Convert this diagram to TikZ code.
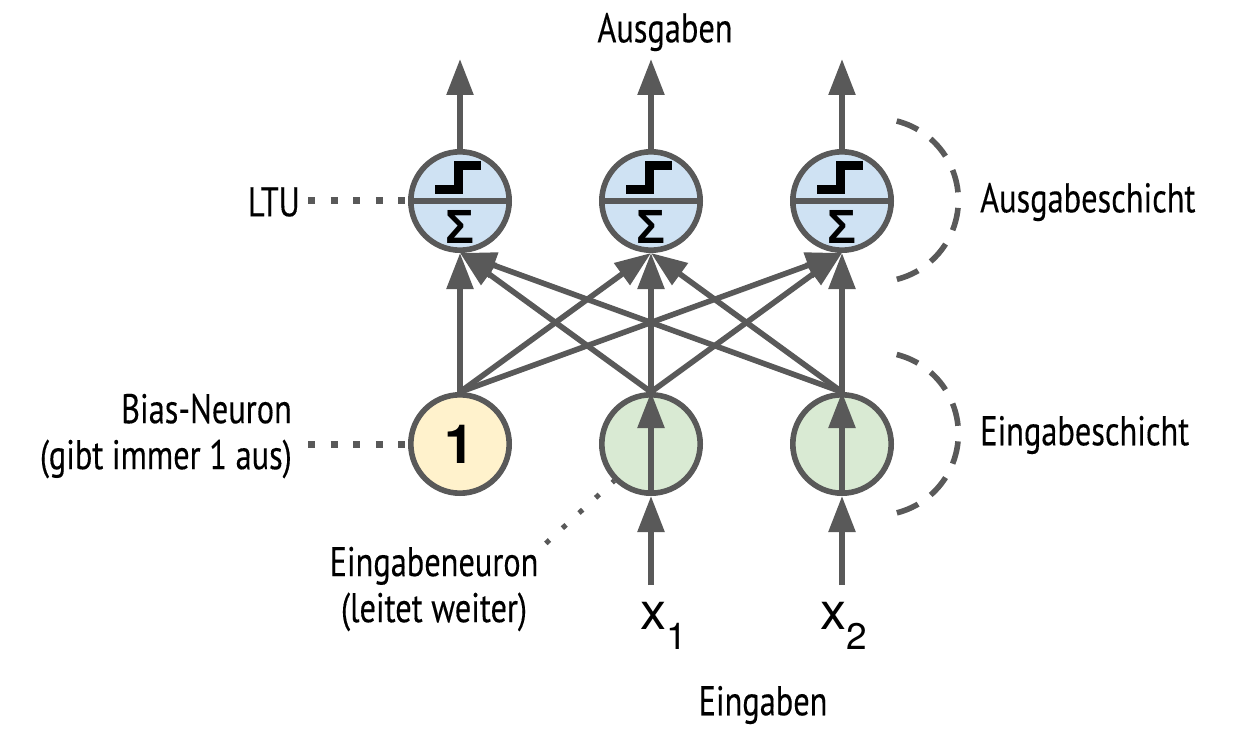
\documentclass[tikz,border=0pt]{standalone}
\usepackage{fontspec}
\setmainfont{Liberation Sans}
\newfontfamily\labelfont[FakeStretch=0.78,FakeBold=0.25]{PT Sans}
\newfontfamily\symfont{TeX Gyre Heros}
\usetikzlibrary{arrows.meta}
\definecolor{edgegray}{HTML}{595959}
\definecolor{outblue}{HTML}{CFE2F3}
\definecolor{biasyellow}{HTML}{FFF2CC}
\definecolor{ingreen}{HTML}{D9EAD3}
\tikzset{
  x=1pt,y=-1pt,
  neuron/.style={circle,draw=edgegray,line width=5.6pt,minimum size=98.4pt,inner sep=0pt,outer sep=2.8pt},
  conn/.style={draw=edgegray,line width=5.6pt,-{Triangle[length=36pt,width=26pt]}},
  dots/.style={draw=edgegray,line width=7pt,dash pattern=on 7pt off 15.6pt},
  diagdots/.style={draw=edgegray,line width=5pt,dash pattern=on 5pt off 17.5pt},
  layerarc/.style={draw=edgegray,line width=5.6pt,dash pattern=on 23pt off 15.6pt},
  lbl/.style={font=\labelfont\fontsize{41.5}{46}\selectfont,text=black,inner sep=0pt},
  symb/.style={font=\symfont\fontsize{52}{52}\selectfont,text=black,inner sep=0pt,anchor=base west},
}
\newcommand{\subnum}[1]{\raisebox{-20pt}{\fontsize{37}{37}\selectfont #1}}
\begin{document}
\begin{tikzpicture}
\useasboundingbox (0,0) rectangle (1239,746);
% neurons
\foreach \n/\px in {o1/460,o2/651,o3/842}{
  \node[neuron,fill=outblue] (\n) at (\px,201) {};
  \draw[edgegray,line width=5.6pt] (\n.center) ++(-49.5,0) -- ++(99,0);
  \draw[black,line width=9pt] (\n.center) ++(-25,-11.5) -- ++(23,0) -- ++(0,-24) -- ++(23,0);
  \node[font=\bfseries\fontsize{48}{48}\selectfont,text=black,inner sep=0pt] at (\px,226.5) {Σ};
}
\node[neuron,fill=biasyellow,font=\symfont\bfseries\fontsize{54}{54}\selectfont] (b) at (460,444) {1};
\node[neuron,fill=ingreen] (i1) at (651,444) {};
\node[neuron,fill=ingreen] (i2) at (842,444) {};
% free ends
\coordinate (t1) at (460,59);
\coordinate (t2) at (651,59);
\coordinate (t3) at (842,59);
\coordinate (s1) at (651,585);
\coordinate (s2) at (842,585);
% connectors
\foreach \n/\t in {o1/t1,o2/t2,o3/t3}{\draw[conn] (\n.north) -- (\t);}
\foreach \a in {b,i1,i2}{
  \foreach \c in {o1,o2,o3}{\draw[conn] (\a.north) -- (\c.south);}
}
\draw[conn] (s1) -- (i1.south);
\draw[conn] (s2) -- (i2.south);
\draw[conn] (i1.south) -- (i1.north);
\draw[conn] (i2.south) -- (i2.north);
% labels
\node[lbl] at (665,32) (ausg) {Ausgaben};
\node[lbl,anchor=east] (ltu) at (300,202) {LTU};
\node[lbl,anchor=west] (as) at (980,202) {Ausgabeschicht};
\node[lbl,anchor=west] (es) at (980,435) {Eingabeschicht};
\node[lbl,align=right,anchor=east] (bn) at (292,436) {Bias-Neuron\\(gibt immer 1 aus)};
\node[lbl,align=center] (en) at (434,589) {Eingabeneuron\\(leitet weiter)};
\node[lbl] (eg) at (763,705) {Eingaben};
\node[symb] (x1) at (640,629) {x\subnum{1}};
\node[symb] (x2) at (820,629) {x\subnum{2}};
% dotted leaders
\coordinate (lq) at (308,201);
\coordinate (bq) at (308,444);
\coordinate (eq) at (545.8,543.4);
\draw[dots] (lq) -- (o1.west);
\draw[dots] (bq) -- (b.west);
\draw[diagdots] (eq) -- (i1.225);
% layer arcs
\coordinate (a1) at (896.7,121);
\coordinate (a2) at (896.7,354.5);
\draw[layerarc] (a1) arc[start angle=-75.8,end angle=75.8,radius=81.7];
\draw[layerarc] (a2) arc[start angle=-75.8,end angle=75.8,radius=81.7];
\end{tikzpicture}
\end{document}
